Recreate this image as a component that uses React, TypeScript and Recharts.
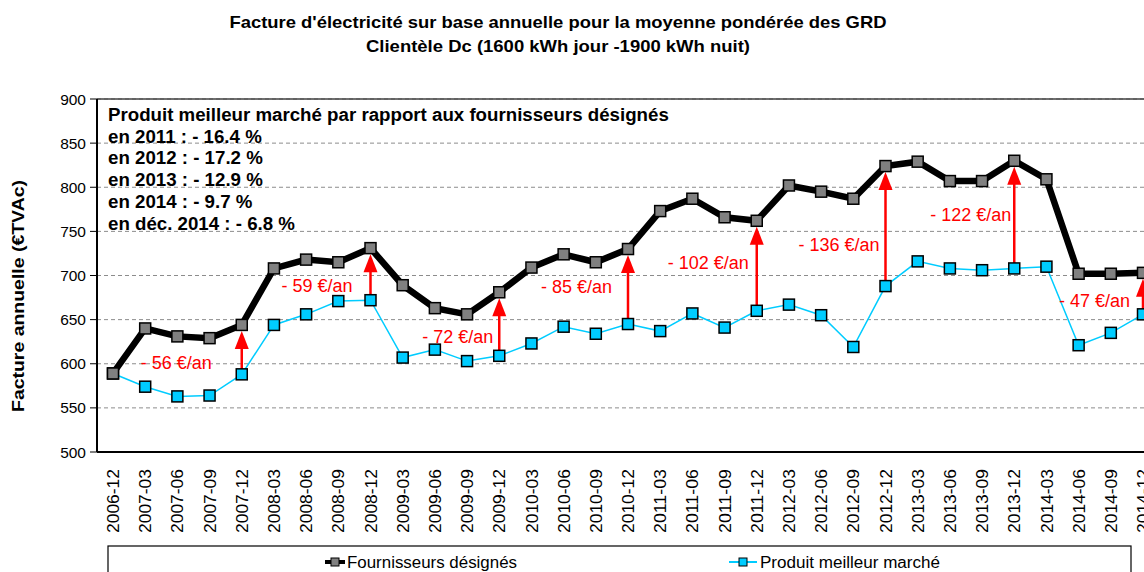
import React from 'react';
import { LineChart, Line, XAxis, YAxis, CartesianGrid, ReferenceLine, ReferenceDot, Customized } from 'recharts';

const periods = [
  '2006-12', '2007-03', '2007-06', '2007-09', '2007-12', '2008-03', '2008-06', '2008-09', '2008-12',
  '2009-03', '2009-06', '2009-09', '2009-12', '2010-03', '2010-06', '2010-09', '2010-12',
  '2011-03', '2011-06', '2011-09', '2011-12', '2012-03', '2012-06', '2012-09', '2012-12',
  '2013-03', '2013-06', '2013-09', '2013-12', '2014-03', '2014-06', '2014-09', '2014-12',
];
const fournisseursDesignes = [
  589, 640, 631, 629, 644, 708, 718, 715, 731,
  689, 663, 656, 681, 709, 724, 715, 730,
  773, 787, 766, 762, 802, 795, 787, 824,
  829, 807, 807, 830, 809, 702, 702, 703,
];
const produitMeilleurMarche = [
  589, 574, 563, 564, 588, 644, 656, 671, 672,
  607, 616, 603, 609, 623, 642, 634, 645,
  637, 657, 641, 660, 667, 655, 619, 688,
  716, 708, 706, 708, 710, 621, 635, 656,
];
const yTicks = [500, 550, 600, 650, 700, 750, 800, 850, 900];

const arrowPeriods = ['2007-12', '2008-12', '2009-12', '2010-12', '2011-12', '2012-12', '2013-12', '2014-12'];
const savingLabels = ['- 56 €/an', '- 59 €/an', '- 72 €/an', '- 85 €/an', '- 102 €/an', '- 136 €/an', '- 122 €/an', '- 47 €/an'];
const savingLabelValues = [601, 689, 631, 688, 715, 735, 769, 672];
const savingLabelShift = [-30, -18, -6, -16, -8, -6, -3, -13];

const titleLines = [
  "Facture d'électricité sur base annuelle pour la moyenne pondérée des GRD",
  'Clientèle Dc (1600 kWh jour -1900 kWh nuit)',
];
const yAxisTitle = 'Facture annuelle (€TVAc)';
const noteLines = [
  'Produit meilleur marché par rapport aux fournisseurs désignés',
  'en 2011 : - 16.4 %',
  'en 2012 : - 17.2 %',
  'en 2013 : - 12.9 %',
  'en 2014 : - 9.7 %',
  'en déc. 2014 : - 6.8 %',
];
const seriesNames = ['Fournisseurs désignés', 'Produit meilleur marché'];

const data = periods.map((p, i) => ({
  period: p,
  fournisseurs: fournisseursDesignes[i],
  produit: produitMeilleurMarche[i],
}));

const FONT = 'Liberation Sans, Arial, sans-serif';
const BLUE = '#00CCFF';
const GRAY = '#808080';
const RED = '#FF0000';

const XTick = (props: any) => {
  const { x, y, payload } = props;
  const ty = y + 9;
  return (
    <text x={x} y={ty} transform={`rotate(-90, ${x}, ${ty})`} textAnchor="end" dy="0.36em"
      fontSize={17} fill="#000" fontFamily={FONT} textLength={64} lengthAdjust="spacingAndGlyphs">
      {payload.value}
    </text>
  );
};

const squareDot = (fill: string, size: number) => (props: any) => {
  const { cx, cy, index } = props;
  if (cx == null || cy == null) return <g key={`d${index}`} />;
  return (
    <rect key={`d${index}`} x={cx - size / 2} y={cy - size / 2} width={size} height={size}
      fill={fill} stroke="#000" strokeWidth={1.5} />
  );
};

const Arrow = (props: any) => {
  const { x1, y1, x2, y2 } = props;
  const tip = Math.min(y1, y2) + 6;
  const bottom = Math.max(y1, y2) - 4;
  const x = x1;
  return (
    <g>
      <line x1={x} y1={bottom} x2={x} y2={tip + 16} stroke={RED} strokeWidth={2.5} />
      <polygon points={`${x},${tip} ${x - 7},${tip + 18} ${x + 7},${tip + 18}`} fill={RED} />
    </g>
  );
};

const Overlay = () => (
  <g fontFamily={FONT}>
    <text x={558} y={28} textAnchor="middle" fontSize={17} fontWeight="bold" fill="#000"
      textLength={657} lengthAdjust="spacingAndGlyphs">{titleLines[0]}</text>
    <text x={558} y={52} textAnchor="middle" fontSize={17} fontWeight="bold" fill="#000"
      textLength={384} lengthAdjust="spacingAndGlyphs">{titleLines[1]}</text>
    <text x={18} y={296} transform="rotate(-90, 18, 296)" textAnchor="middle" dy="0.35em"
      fontSize={17} fontWeight="bold" fill="#000" textLength={232} lengthAdjust="spacingAndGlyphs">{yAxisTitle}</text>
    {noteLines.map((t, i) => (
      <text key={i} x={108} y={114 + i * 21.8} dy="0.36em" fontSize={18.7} fontWeight="bold" fill="#000">{t}</text>
    ))}
    <rect x={108} y={546} width={1023} height={40} fill="#fff" stroke="#000" strokeWidth={1.2} />
    <line x1={325} y1={562} x2={345} y2={562} stroke="#000" strokeWidth={4} />
    <rect x={331} y={558} width={8} height={8} fill={GRAY} stroke="#000" strokeWidth={1} />
    <text x={347} y={562} dy="0.36em" fontSize={16} fill="#000" textLength={170} lengthAdjust="spacingAndGlyphs">{seriesNames[0]}</text>
    <line x1={729} y1={562} x2={757} y2={562} stroke={BLUE} strokeWidth={2} />
    <rect x={739} y={558} width={8} height={8} fill={BLUE} stroke="#000" strokeWidth={1} />
    <text x={760} y={562} dy="0.36em" fontSize={16} fill="#000" textLength={180} lengthAdjust="spacingAndGlyphs">{seriesNames[1]}</text>
  </g>
);

export default function App() {
  return (
    <div style={{ position: 'absolute', left: 0, top: 0, width: 1144, height: 572, overflow: 'hidden', background: '#fff' }}>
      <LineChart width={1180} height={572} data={data} margin={{ top: 99, right: 21, bottom: 0, left: 0 }}>
        <CartesianGrid vertical={false} stroke="#8c8c8c" strokeDasharray="4 3" strokeWidth={1} />
        <ReferenceLine y={900} stroke="#404040" strokeWidth={1.5} />
        <XAxis dataKey="period" scale="point" interval={0} padding={{ left: 16, right: 16 }}
          tick={<XTick />} tickLine={false} height={120}
          axisLine={{ stroke: '#000', strokeWidth: 2 }} />
        <YAxis domain={[500, 900]} ticks={yTicks} width={97} interval={0}
          tick={{ fontSize: 15.5, fill: '#000', fontFamily: FONT }} tickSize={7} tickMargin={4}
          tickLine={{ stroke: '#000', strokeWidth: 1 }} axisLine={{ stroke: '#000', strokeWidth: 2 }} />
        <Line dataKey="produit" name={seriesNames[1]} stroke={BLUE} strokeWidth={1.5}
          dot={squareDot(BLUE, 11)} isAnimationActive={false} />
        <Line dataKey="fournisseurs" name={seriesNames[0]} stroke="#000" strokeWidth={6.5}
          dot={squareDot(GRAY, 11)} isAnimationActive={false} />
        {arrowPeriods.map((p) => {
          const i = periods.indexOf(p);
          return (
            <ReferenceLine key={`a${p}`}
              segment={[{ x: p, y: produitMeilleurMarche[i] }, { x: p, y: fournisseursDesignes[i] }]}
              shape={(props: any) => <Arrow {...props} />} />
          );
        })}
        {arrowPeriods.map((p, k) => (
          <ReferenceDot key={`l${p}`} x={p} y={savingLabelValues[k]}
            shape={(props: any) => (
              <text x={props.cx + savingLabelShift[k]} y={props.cy} dy="0.36em" textAnchor="end"
                fontSize={18} fill={RED} fontFamily={FONT}>{savingLabels[k]}</text>
            )} />
        ))}
        <Customized component={<Overlay />} />
      </LineChart>
    </div>
  );
}
